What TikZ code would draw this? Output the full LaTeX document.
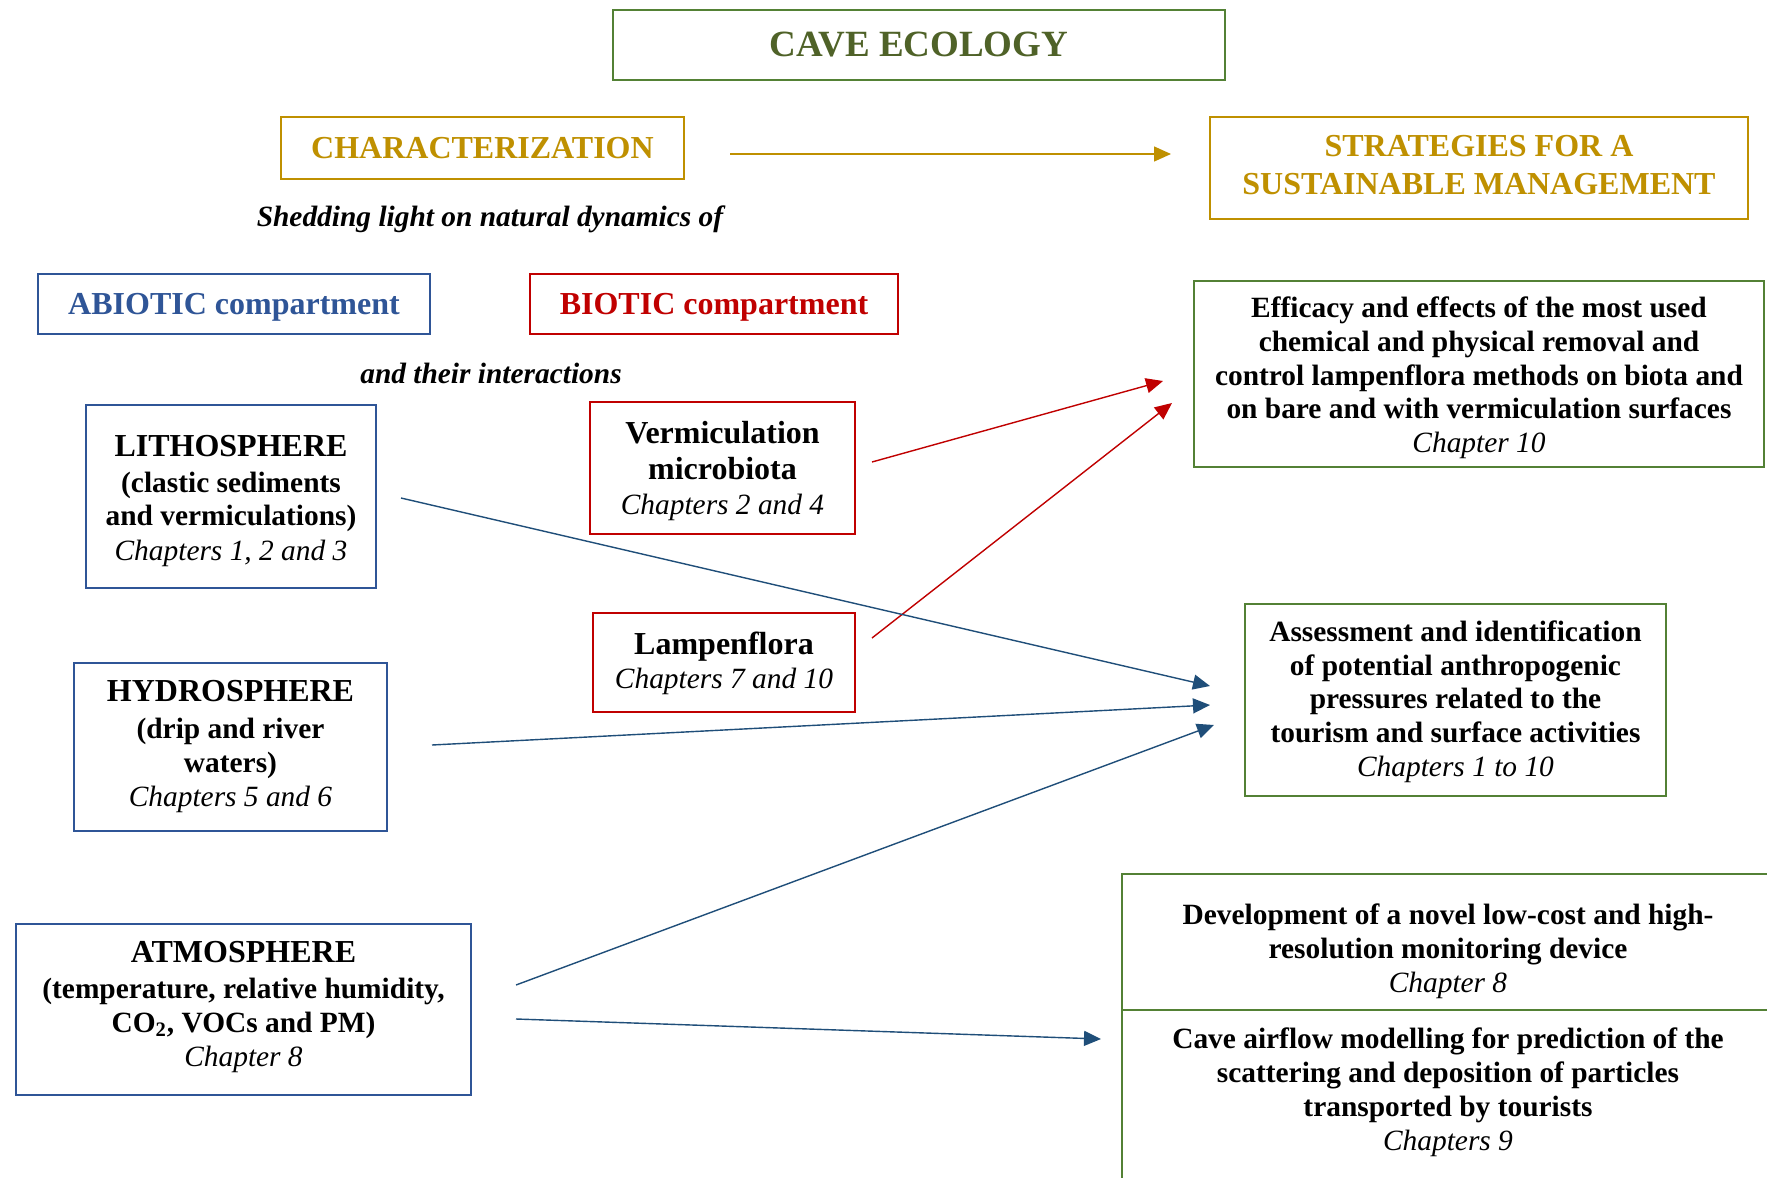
\documentclass[tikz,border=0pt]{standalone}
\usepackage{fontspec}
\setmainfont{Liberation Serif}
\usetikzlibrary{arrows.meta}
\definecolor{cgreen}{HTML}{538135}
\definecolor{ctitle}{HTML}{4F6228}
\definecolor{cgold}{HTML}{BF9000}
\definecolor{cblue}{HTML}{2F5597}
\definecolor{cnavy}{HTML}{2F5597}
\definecolor{carrow}{HTML}{1F4E79}
\definecolor{cred}{HTML}{C00000}
\newcommand{\bodyf}{\fontsize{14.7}{16.9}\selectfont}
\newcommand{\headf}{\fontsize{16}{18.4}\selectfont}
\newcommand{\chap}[1]{{\mdseries\itshape #1}}
\newcommand{\shiftbox}[2]{\raisebox{#1}[\height][\depth]{\begin{tabular}{@{}c@{}}#2\end{tabular}}}
\begin{document}
\begin{tikzpicture}[x=0.5pt,y=-0.5pt,
  box/.style={draw, line width=1pt, inner sep=0pt, align=center, font=\bodyf\bfseries},
  plain/.style={inner sep=0pt, align=center, font=\bodyf\bfseries},
  arr/.style={line width=0.7pt, -{Triangle[length=8.5pt,width=7.5pt]}}]
\useasboundingbox (0,0) rectangle (1767,1178);
\fill[white] (0,0) rectangle (1767,1178);

\node[box, draw=cgreen, text=ctitle, minimum width=306pt, minimum height=35pt,
  font=\fontsize{18.5}{21}\selectfont\bfseries] (cave) at (919,45) {CAVE ECOLOGY};

\node[box, draw=cgold, text=cgold, minimum width=201.5pt, minimum height=31pt,
  font=\headf\bfseries] (char) at (482.5,148) {CHARACTERIZATION};

\node[box, draw=cgold, text=cgold, minimum width=269pt, minimum height=51pt,
  font=\headf\bfseries] (strat) at (1479,168) {\shiftbox{-0.2pt}{STRATEGIES FOR A\\[0.5pt]SUSTAINABLE MANAGEMENT}};

\node[plain, font=\bodyf\bfseries\itshape] (shed) at (490,219.5) {Shedding light on natural dynamics of};

\node[box, draw=cblue, text=cblue, minimum width=196pt, minimum height=30pt,
  font=\headf\bfseries] (abio) at (234,304) {\shiftbox{-1.7pt}{ABIOTIC compartment}};
\node[box, draw=cred, text=cred, minimum width=184pt, minimum height=30pt,
  font=\headf\bfseries] (bio) at (714,304) {\shiftbox{-1.7pt}{BIOTIC compartment}};

\node[plain, font=\bodyf\bfseries\itshape] (inter) at (491,373) {and their interactions};

\node[box, draw=cnavy, minimum width=145pt, minimum height=91.5pt] (litho) at (231,496.5)
  {\shiftbox{-2.6pt}{{\headf LITHOSPHERE}\\[1.1pt](clastic sediments\\and vermiculations)\\[0.5pt]\chap{Chapters 1, 2 and 3}}};
\node[box, draw=cnavy, minimum width=156.5pt, minimum height=84pt] (hydro) at (230.5,747)
  {\shiftbox{0pt}{{\headf HYDROSPHERE}\\[1.6pt](drip and river\\waters)\\\chap{Chapters 5 and 6}}};
\node[box, draw=cnavy, minimum width=227.5pt, minimum height=85.5pt] (atmo) at (243.5,1009.5)
  {\shiftbox{1pt}{{\headf ATMOSPHERE}\\[1.1pt](temperature, relative humidity,\\CO\textsubscript{2}, VOCs and PM)\\\chap{Chapter 8}}};

\node[box, draw=cred, minimum width=132.5pt, minimum height=66pt] (verm) at (722.5,468)
  {\shiftbox{-2pt}{{\headf Vermiculation}\\[1.1pt]{\headf microbiota}\\[0.6pt]\chap{Chapters 2 and 4}}};
\node[box, draw=cred, minimum width=131pt, minimum height=49.5pt] (lamp) at (724,662.5)
  {\shiftbox{-1pt}{{\headf Lampenflora}\\\chap{Chapters 7 and 10}}};

\node[box, draw=cgreen, minimum width=285pt, minimum height=93pt] (eff) at (1479,374)
  {\shiftbox{-2.2pt}{Efficacy and effects of the most used\\chemical and physical removal and\\control lampenflora methods on biota and\\on bare and with vermiculation surfaces\\\chap{Chapter 10}}};
\node[box, draw=cgreen, minimum width=210.5pt, minimum height=96pt] (assess) at (1455.5,700)
  {\shiftbox{-1.1pt}{Assessment and identification\\of potential anthropogenic\\pressures related to the\\tourism and surface activities\\\chap{Chapters 1 to 10}}};

\draw[cgreen, line width=1pt] (1767,874) -- (1122,874) -- (1122,1178);
\draw[cgreen, line width=1pt] (1122,1010) -- (1767,1010);
\node[plain] (dev) at (1448,951.3)
  {Development of a novel low-cost and high-\\resolution monitoring device\\\chap{Chapter 8}};
\node[plain] (air) at (1448,1092.3)
  {Cave airflow modelling for prediction of the\\scattering and deposition of particles\\transported by tourists\\\chap{Chapters 9}};

% arrows
\draw[arr, cgold, shorten <=22.5pt, shorten >=19pt] (char.east |- 0,154) -- (strat.west |- 0,154);

\coordinate (r1s) at (872,462); \coordinate (r1e) at (1163,381);
\coordinate (r2s) at (872,638); \coordinate (r2e) at (1172,403);
\draw[arr, cred] (r1s) -- (r1e);
\draw[arr, cred] (r2s) -- (r2e);

\coordinate (b1s) at (401,498); \coordinate (b1e) at (1210,686);
\coordinate (b2s) at (432,745); \coordinate (b2e) at (1210,705);
\coordinate (b3s) at (516,985); \coordinate (b3e) at (1214,725);
\coordinate (b4s) at (516,1019); \coordinate (b4e) at (1101,1039);
\draw[arr, carrow] (b1s) -- (b1e);
\draw[arr, carrow] (b2s) -- (b2e);
\draw[arr, carrow] (b3s) -- (b3e);
\draw[arr, carrow] (b4s) -- (b4e);
\end{tikzpicture}
\end{document}
